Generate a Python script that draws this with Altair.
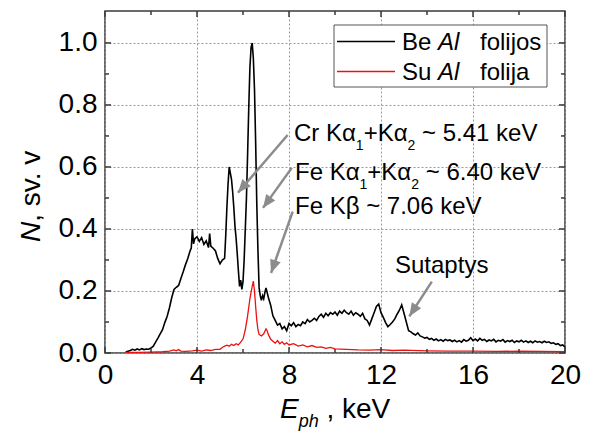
import math
import altair as alt
import pandas as pd

FONT = "Liberation Sans"

# ---------------- data ----------------
# Be Al folijos (black)
be_e = [0.9, 1.0, 1.1, 1.2, 1.3, 1.4, 1.5, 1.6, 1.7, 1.8, 1.9, 2.0, 2.1, 2.2, 2.3, 2.4,
        2.5, 2.6, 2.7, 2.8, 2.9, 3.0, 3.1, 3.2, 3.3, 3.4, 3.5, 3.6, 3.7, 3.75, 3.8, 3.85,
        3.9, 4.0, 4.1, 4.2, 4.3, 4.4, 4.5, 4.55, 4.6, 4.7, 4.8, 4.9, 5.0, 5.1, 5.2, 5.25,
        5.3, 5.35, 5.4, 5.45, 5.5, 5.55, 5.6, 5.65, 5.7, 5.75, 5.8, 5.85, 5.9, 5.95, 6.0,
        6.05, 6.1, 6.15, 6.2, 6.25, 6.3, 6.35, 6.4, 6.45, 6.5, 6.55, 6.6, 6.65, 6.7, 6.75,
        6.8, 6.85, 6.9, 6.95, 7.0, 7.05, 7.1, 7.2, 7.3, 7.4, 7.5, 7.6, 7.7, 7.8, 7.9, 8.0,
        8.1, 8.2, 8.3, 8.4, 8.5, 8.6, 8.7, 8.8, 8.9, 9.0, 9.1, 9.2, 9.3, 9.4, 9.5, 9.6,
        9.7, 9.8, 9.9, 10.0, 10.1, 10.2, 10.3, 10.4, 10.5, 10.6, 10.7, 10.8, 10.9, 11.0,
        11.1, 11.2, 11.3, 11.4, 11.5, 11.6, 11.7, 11.8, 11.9, 12.0, 12.1, 12.2, 12.3, 12.4,
        12.5, 12.6, 12.7, 12.8, 12.9, 13.0, 13.1, 13.2, 13.3, 13.4, 13.5, 13.6, 13.7, 13.8,
        13.9, 14.0, 14.1, 14.2, 14.3, 14.4, 14.5, 14.6, 14.7, 14.8, 14.9, 15.0, 15.1, 15.2,
        15.3, 15.4, 15.5, 15.6, 15.7, 15.8, 15.9, 16.0, 16.1, 16.2, 16.3, 16.4, 16.5, 16.6,
        16.7, 16.8, 16.9, 17.0, 17.1, 17.2, 17.3, 17.4, 17.5, 17.6, 17.7, 17.8, 17.9, 18.0,
        18.1, 18.2, 18.3, 18.4, 18.5, 18.6, 18.7, 18.8, 18.9, 19.0, 19.1, 19.2, 19.3, 19.4,
        19.5, 19.6, 19.7, 19.8, 19.9, 20.0]
be_n = [0.003, 0.006, 0.008, 0.012, 0.009, 0.013, 0.010, 0.014, 0.011, 0.013, 0.012, 0.016,
        0.022, 0.035, 0.048, 0.062, 0.075, 0.098, 0.118, 0.145, 0.178, 0.205, 0.212, 0.218,
        0.240, 0.262, 0.285, 0.305, 0.330, 0.338, 0.400, 0.352, 0.368, 0.375, 0.360, 0.372,
        0.350, 0.362, 0.340, 0.385, 0.345, 0.338, 0.330, 0.305, 0.288, 0.300, 0.305, 0.380,
        0.470, 0.545, 0.600, 0.580, 0.560, 0.520, 0.470, 0.410, 0.370, 0.320, 0.265, 0.215,
        0.235, 0.205, 0.230, 0.300, 0.400, 0.500, 0.640, 0.790, 0.920, 0.985, 1.000, 0.950,
        0.850, 0.680, 0.480, 0.330, 0.210, 0.185, 0.170, 0.185, 0.175, 0.195, 0.210, 0.195,
        0.180, 0.155, 0.120, 0.105, 0.090, 0.095, 0.078, 0.085, 0.072, 0.095, 0.088, 0.098,
        0.085, 0.092, 0.088, 0.100, 0.095, 0.108, 0.100, 0.105, 0.112, 0.105, 0.118, 0.125,
        0.115, 0.128, 0.120, 0.130, 0.125, 0.132, 0.122, 0.135, 0.128, 0.138, 0.130, 0.125,
        0.135, 0.122, 0.130, 0.125, 0.118, 0.128, 0.110, 0.105, 0.090, 0.110, 0.130, 0.150,
        0.158, 0.130, 0.115, 0.098, 0.085, 0.092, 0.100, 0.110, 0.125, 0.138, 0.155, 0.128,
        0.100, 0.072, 0.068, 0.062, 0.058, 0.065, 0.055, 0.052, 0.048, 0.050, 0.044, 0.047,
        0.041, 0.045, 0.039, 0.043, 0.038, 0.044, 0.040, 0.042, 0.037, 0.041, 0.036, 0.040,
        0.035, 0.043, 0.038, 0.041, 0.049, 0.040, 0.045, 0.039, 0.047, 0.041, 0.044, 0.037,
        0.042, 0.039, 0.044, 0.036, 0.041, 0.038, 0.043, 0.035, 0.040, 0.037, 0.041, 0.034,
        0.039, 0.036, 0.041, 0.035, 0.039, 0.034, 0.038, 0.033, 0.039, 0.035, 0.037, 0.033,
        0.038, 0.034, 0.036, 0.031, 0.033, 0.028, 0.030, 0.024, 0.026, 0.019]

# Su Al folija (red)
su_e = [0.9, 1.5, 2.0, 2.5, 2.8, 3.0, 3.1, 3.2, 3.3, 3.5, 3.8, 4.0, 4.2, 4.4, 4.6, 4.8,
        5.0, 5.1, 5.2, 5.3, 5.4, 5.5, 5.6, 5.7, 5.8, 5.9, 6.0, 6.1, 6.2, 6.3, 6.4, 6.45,
        6.5, 6.55, 6.6, 6.65, 6.7, 6.8, 6.9, 7.0, 7.05, 7.1, 7.2, 7.3, 7.4, 7.5, 7.6, 7.7,
        7.8, 7.9, 8.0, 8.2, 8.4, 8.6, 8.8, 9.0, 9.2, 9.4, 9.6, 9.8, 10.0, 10.5, 11.0, 11.5,
        12.0, 12.5, 13.0, 14.0, 15.0, 16.0, 17.0, 18.0, 19.0, 20.0]
su_n = [0.002, 0.002, 0.003, 0.004, 0.006, 0.010, 0.007, 0.011, 0.006, 0.005, 0.007, 0.009,
        0.006, 0.010, 0.008, 0.012, 0.012, 0.018, 0.022, 0.025, 0.022, 0.028, 0.024, 0.030,
        0.026, 0.035, 0.045, 0.075, 0.120, 0.175, 0.215, 0.232, 0.200, 0.150, 0.105, 0.075,
        0.060, 0.055, 0.062, 0.078, 0.072, 0.060, 0.045, 0.038, 0.032, 0.040, 0.030, 0.036,
        0.028, 0.033, 0.026, 0.030, 0.022, 0.026, 0.020, 0.024, 0.018, 0.020, 0.015, 0.018,
        0.013, 0.012, 0.010, 0.009, 0.011, 0.008, 0.009, 0.007, 0.006, 0.006, 0.005, 0.006,
        0.005, 0.004]

x_major = [0, 4, 8, 12, 16, 20]
x_minor = [2, 6, 10, 14, 18]
y_major = [0.0, 0.2, 0.4, 0.6, 0.8, 1.0]
y_minor = [0.1, 0.3, 0.5, 0.7, 0.9]

# annotation arrows (tail -> head), data units
arrow_x0 = [7.94, 8.12, 8.16, 14.21]
arrow_y0 = [0.703, 0.597, 0.456, 0.230]
arrow_x1 = [5.78, 6.87, 7.22, 13.23]
arrow_y1 = [0.517, 0.468, 0.258, 0.118]

# ---------------- layout ----------------
W, H = 460, 342
XMAX, YMAX = 20.0, 1.103
FRAME = "#3a3a3a"
GRAY = "#8c8c8c"

axis_x = alt.Axis(values=x_major, title=None, grid=True, gridDash=[2, 2], gridColor="#9a9a9a",
                  gridWidth=1, ticks=False, domain=False, labelFont=FONT, labelFontSize=28,
                  labelColor="black", labelPadding=8, labelFlush=False, labelOverlap=False)
axis_y = alt.Axis(values=y_major, format=".1f", title=None, grid=True, gridDash=[2, 2],
                  gridColor="#9a9a9a", gridWidth=1, ticks=False, domain=False, labelFont=FONT,
                  labelFontSize=28, labelColor="black", labelPadding=8, labelFlush=False,
                  labelOverlap=False)
sx = alt.Scale(domain=[0, XMAX], nice=False, zero=False)
sy = alt.Scale(domain=[0, YMAX], nice=False, zero=False)


def X(f):
    return alt.X(f"{f}:Q", scale=sx, axis=axis_x)


def Y(f):
    return alt.Y(f"{f}:Q", scale=sy, axis=axis_y)


ONE = pd.DataFrame({"k": [0]})

WID = {" ": 0.278, "+": 0.584, "~": 0.584, ".": 0.278, ",": 0.278, "A": 0.667, "B": 0.667,
       "C": 0.722, "E": 0.667, "F": 0.611, "K": 0.667, "N": 0.722, "S": 0.667, "V": 0.667,
       "a": 0.556, "e": 0.556, "f": 0.278, "h": 0.556, "i": 0.222, "j": 0.222, "k": 0.5,
       "l": 0.222, "o": 0.556, "p": 0.556, "r": 0.333, "s": 0.5, "t": 0.278, "u": 0.556,
       "v": 0.5, "y": 0.5, "α": 0.578, "β": 0.575}


def tw(s, size):
    return sum(WID.get(c, 0.556) for c in s) * size


def txt(text, x, y, size, italic=False, angle=0, color="black"):
    kw = dict(text=text, align="left", baseline="alphabetic", font=FONT, fontSize=size,
              fontStyle="italic" if italic else "normal", color=color)
    if angle:
        kw["angle"] = angle
    return alt.Chart(ONE).mark_text(**kw).encode(x=alt.value(x), y=alt.value(y))


def run(parts, x, y):
    out = []
    cx = x
    for text, size, italic, dy in parts:
        lead = len(text) - len(text.lstrip())
        out.append(txt(text.strip(), cx + tw(text[:lead], size), y + dy, size, italic))
        cx += tw(text, size)
    return out


layers = []

# spectra
be_df = pd.DataFrame({"E": be_e, "N": be_n})
su_df = pd.DataFrame({"E": su_e, "N": su_n})
layers.append(alt.Chart(be_df).mark_line(color="black", strokeWidth=1.6).encode(x=X("E"), y=Y("N")))
layers.append(alt.Chart(su_df).mark_line(color="#ee1111", strokeWidth=1.3).encode(x=X("E"), y=Y("N")))

# inward ticks on all four sides
def yticks(vals, ln):
    d = pd.DataFrame({"v": vals})
    return [
        alt.Chart(d).mark_rule(color=FRAME, strokeWidth=1.5).encode(y=Y("v"), x=alt.value(0), x2=alt.value(ln)),
        alt.Chart(d).mark_rule(color=FRAME, strokeWidth=1.5).encode(y=Y("v"), x=alt.value(W - ln), x2=alt.value(W)),
    ]


def xticks(vals, ln):
    d = pd.DataFrame({"v": vals})
    return [
        alt.Chart(d).mark_rule(color=FRAME, strokeWidth=1.5).encode(x=X("v"), y=alt.value(H - ln), y2=alt.value(H)),
        alt.Chart(d).mark_rule(color=FRAME, strokeWidth=1.5).encode(x=X("v"), y=alt.value(0), y2=alt.value(ln)),
    ]


layers += yticks(y_major, 6) + yticks(y_minor, 4) + xticks(x_major, 6) + xticks(x_minor, 4)

# arrows
ang = []
for a, b, c, d in zip(arrow_x0, arrow_y0, arrow_x1, arrow_y1):
    dx = (c - a) * W / XMAX
    dy = -(d - b) * H / YMAX
    ang.append(math.degrees(math.atan2(dx, -dy)) % 360)
arr = pd.DataFrame({"x0": arrow_x0, "y0": arrow_y0, "x1": arrow_x1, "y1": arrow_y1, "ang": ang})
layers.append(alt.Chart(arr).mark_rule(color=GRAY, strokeWidth=2.5).encode(
    x=X("x0"), y=Y("y0"), x2="x1:Q", y2="y1:Q"))
layers.append(alt.Chart(arr).mark_point(shape="M0,0L0.42,1L-0.42,1Z", filled=True, size=700,
                                        color=GRAY, opacity=1).encode(
    x=X("x1"), y=Y("y1"), angle=alt.Angle("ang:Q", scale=None)))

# legend box
layers.append(alt.Chart(ONE).mark_rect(fill="white", stroke="#555555", strokeWidth=1).encode(
    x=alt.value(229), x2=alt.value(442), y=alt.value(14), y2=alt.value(76)))
layers.append(alt.Chart(ONE).mark_rule(color="black", strokeWidth=1.5).encode(
    x=alt.value(232), x2=alt.value(290), y=alt.value(30.5)))
layers.append(alt.Chart(ONE).mark_rule(color="#ee1111", strokeWidth=1.5).encode(
    x=alt.value(232), x2=alt.value(290), y=alt.value(60.5)))
LF = 24
layers += [txt("Be", 297, 38.5, LF), txt("Al", 333, 38.5, LF, italic=True), txt("folijos", 375, 38.5, LF)]
layers += [txt("Su", 297, 69, LF), txt("Al", 333, 69, LF, italic=True), txt("folija", 375, 69, LF)]

# annotations
AF, SF, SD = 24, 14, 9
layers += run([("Cr K", AF, False, 0), ("α", AF, False, 0), ("1", SF, False, SD),
               ("+K", AF, False, 0), ("α", AF, False, 0), ("2", SF, False, SD),
               (" ~ 5.41 keV", AF, False, 0)], 189, 129.5)
layers += run([("Fe K", AF, False, 0), ("α", AF, False, 0), ("1", SF, False, SD),
               ("+K", AF, False, 0), ("α", AF, False, 0), ("2", SF, False, SD),
               (" ~ 6.40 keV", AF, False, 0)], 190, 169)
layers += run([("Fe Kβ ~ 7.06 keV", AF, False, 0)], 190, 203)
layers += run([("Sutaptys", AF, False, 0)], 290, 262)

# axis titles
layers += run([("E", 28, True, 0), ("ph", 18, True, 9), (" , keV", 28, False, 0)], 175, 407)
layers.append(txt("N", -65, 231, 28, italic=True, angle=270))
layers.append(txt(", sv. v", -65, 231 - tw("N", 28), 28, angle=270))

chart = alt.layer(*layers).properties(
    width=W, height=H,
    padding={"left": 105, "top": 11, "right": 29, "bottom": 79},
    autosize=alt.AutoSizeParams(type="none"),
    background="white",
).configure_view(stroke=FRAME, strokeWidth=1.5)

chart.save("out.html", embed_options={"renderer": "svg", "actions": False})
